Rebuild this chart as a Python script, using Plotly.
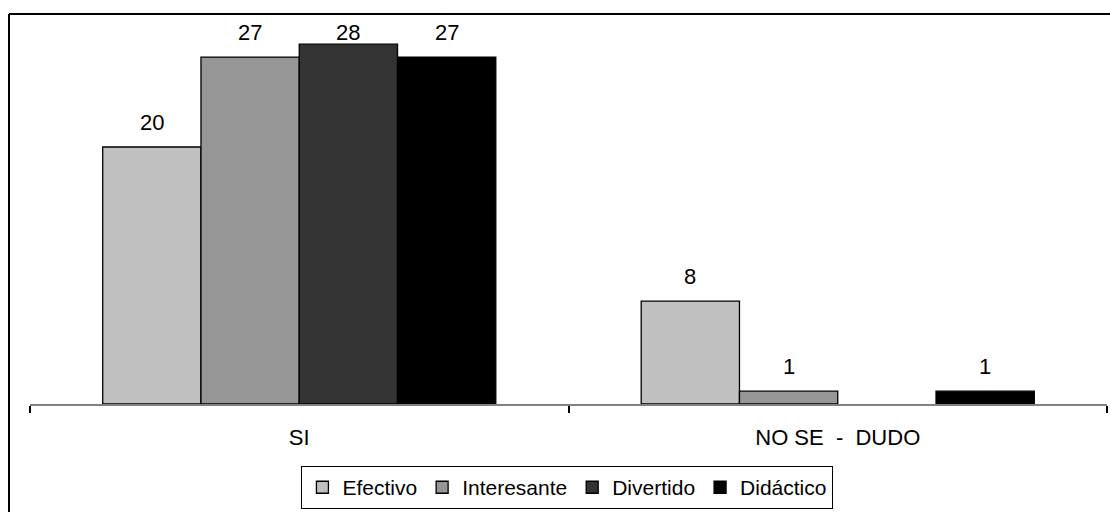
import plotly.graph_objects as go

categories = ["SI", "NO SE  -  DUDO"]
series_names = ["Efectivo", "Interesante", "Divertido", "Didáctico"]
series_values = [
    [20, 8],
    [27, 1],
    [28, None],
    [27, 1],
]
series_colors = ["#C0C0C0", "#969696", "#333333", "#000000"]

W, H = 1110, 512
ML, MR, MT, MB = 30, 3, 16, 105
FONT = "Liberation Sans, Arial, sans-serif"
BARGAP = 0.27
PX_PER_UNIT = 12.95

fig = go.Figure()
for name, vals, col in zip(series_names, series_values, series_colors):
    fig.add_trace(go.Bar(
        name=name,
        x=categories,
        y=vals,
        marker=dict(color=col, line=dict(color="#000000", width=1.3)),
    ))

# value labels above each bar, kept inside the top of the frame
plot_w = W - ML - MR
plot_h = H - MT - MB
bar_w = plot_w / len(categories) * (1 - BARGAP) / len(series_names)
label_gap = 25 / PX_PER_UNIT
label_cap = (plot_h - 17) / PX_PER_UNIT
for i, vals in enumerate(series_values):
    shift = (i - (len(series_names) - 1) / 2) * bar_w
    for cat, v in zip(categories, vals):
        if v is None:
            continue
        fig.add_annotation(
            x=cat, y=min(v + label_gap, label_cap), xref="x", yref="y",
            text=str(v), showarrow=False, xshift=shift, yanchor="middle",
            font=dict(family=FONT, size=22, color="#000000"),
        )

fig.update_layout(
    width=W, height=H,
    margin=dict(l=ML, r=MR, t=MT, b=MB),
    paper_bgcolor="white", plot_bgcolor="white",
    barmode="group", bargap=BARGAP, bargroupgap=0,
    font=dict(family=FONT, size=22, color="#000000"),
    xaxis=dict(
        showline=True, linecolor="#808080", linewidth=2,
        ticks="outside", tickson="boundaries", ticklen=7, tickcolor="#000000", tickwidth=2,
        tickfont=dict(family=FONT, size=22, color="#000000"),
        ticklabelstandoff=13,
        showgrid=False, zeroline=False, fixedrange=True,
    ),
    yaxis=dict(
        range=[0, plot_h / PX_PER_UNIT], visible=False, showgrid=False, zeroline=False,
    ),
    showlegend=True,
    legend=dict(
        orientation="h", x=0.499, xanchor="center", y=-0.16, yanchor="top",
        bordercolor="#000000", borderwidth=1, bgcolor="white",
        font=dict(family=FONT, size=21, color="#000000"),
        itemwidth=30, tracegroupgap=0,
    ),
)

# chart frame: top and left edges
fx = (9 - ML) / plot_w
fy = (H - MB - 14) / plot_h
fig.add_shape(type="line", xref="paper", yref="paper", x0=fx, x1=1.01, y0=fy, y1=fy,
              line=dict(color="#000000", width=2))
fig.add_shape(type="line", xref="paper", yref="paper", x0=fx, x1=fx, y0=fy, y1=-0.3,
              line=dict(color="#000000", width=2))

fig.write_html("out.html")
